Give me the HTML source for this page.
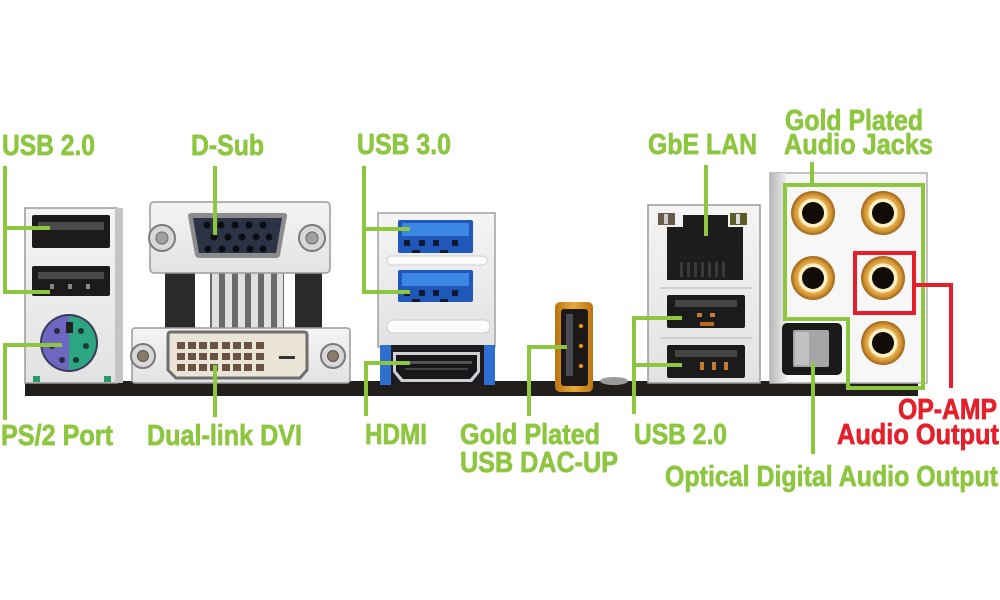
<!DOCTYPE html>
<html><head><meta charset="utf-8"><style>
html,body{margin:0;padding:0;background:#fff;}
svg{display:block;}
text{font-family:"Liberation Sans",Arial,sans-serif;font-weight:bold;font-size:28.5px;stroke-width:0.7px;}
</style></head><body>
<svg width="1000" height="600" viewBox="0 0 1000 600" xmlns="http://www.w3.org/2000/svg">
<defs>
<linearGradient id="metal" x1="0" y1="0" x2="0" y2="1"><stop offset="0" stop-color="#f4f4f4"/><stop offset="1" stop-color="#e2e2e2"/></linearGradient>
<linearGradient id="side" x1="0" y1="0" x2="1" y2="0"><stop offset="0" stop-color="#b8b8b8"/><stop offset="1" stop-color="#ececec"/></linearGradient>
<linearGradient id="gold" x1="0" y1="0" x2="1" y2="0"><stop offset="0" stop-color="#b87412"/><stop offset="0.5" stop-color="#e8a83a"/><stop offset="1" stop-color="#b87412"/></linearGradient>
<radialGradient id="jack" cx="0.5" cy="0.5" r="0.5"><stop offset="0.6" stop-color="#f0c060"/><stop offset="0.85" stop-color="#d09030"/><stop offset="1" stop-color="#9a6015"/></radialGradient>
</defs>

<!-- PCB bar -->
<rect x="25" y="381" width="893" height="15" fill="#221e1b"/>

<!-- LEFT USB / PS2 block -->
<rect x="25" y="208" width="92" height="175" fill="url(#metal)" stroke="#9a9a9a" stroke-width="1.5"/>
<rect x="115" y="208" width="8" height="175" fill="#c4c4c4"/>
<rect x="32" y="215" width="78" height="33" rx="2" fill="#1c1a1a"/>
<rect x="38" y="222" width="66" height="8" fill="#4a4a4a"/>
<rect x="32" y="266" width="78" height="30" rx="2" fill="#1c1a1a"/>
<rect x="38" y="272" width="66" height="7" fill="#4a4a4a"/>
<rect x="50" y="284" width="4" height="5" fill="#888"/><rect x="68" y="284" width="4" height="5" fill="#888"/><rect x="86" y="284" width="4" height="5" fill="#888"/>
<circle cx="69" cy="343" r="29" fill="#3c3a5c"/>
<path d="M69,316 A27,27 0 0 0 69,370 Z" fill="#6e66c0"/>
<path d="M69,316 A27,27 0 0 1 69,370 Z" fill="#2da581"/>
<rect x="66" y="322" width="7" height="11" fill="#222"/>
<circle cx="57" cy="331" r="3" fill="#2a2a44"/><circle cx="52" cy="346" r="3" fill="#2a2a44"/><circle cx="62" cy="360" r="3" fill="#2a2a44"/>
<circle cx="81" cy="331" r="3" fill="#1a3a30"/><circle cx="86" cy="346" r="3" fill="#1a3a30"/><circle cx="76" cy="360" r="3" fill="#1a3a30"/>
<rect x="33" y="376" width="7" height="6" fill="#2a9a6a"/><rect x="104" y="376" width="7" height="6" fill="#2a9a6a"/>

<!-- D-Sub / DVI -->
<rect x="165" y="268" width="30" height="64" fill="#2a2a2a"/>
<rect x="295" y="268" width="27" height="64" fill="#2a2a2a"/>
<rect x="210" y="270" width="74" height="62" fill="#6a6a6a"/>
<g fill="#e0e0e0">
<rect x="212" y="270" width="7" height="62"/><rect x="225" y="270" width="7" height="62"/><rect x="238" y="270" width="7" height="62"/><rect x="251" y="270" width="7" height="62"/><rect x="264" y="270" width="7" height="62"/><rect x="277" y="270" width="6" height="62"/>
</g>
<rect x="150" y="202" width="180" height="71" rx="4" fill="url(#metal)" stroke="#9a9a9a" stroke-width="1.5"/>
<path d="M188,216 Q188,213 191,213 H284 Q287,213 287,216 L280,255 Q279,258 276,258 H199 Q196,258 195,255 Z" fill="#8c8c8c"/>
<path d="M193,218 H282 L276,253 H199 Z" fill="#2b3344"/>
<g fill="#0c0d12">
<circle cx="207" cy="225" r="3.5"/><circle cx="221" cy="225" r="3.5"/><circle cx="235" cy="225" r="3.5"/><circle cx="249" cy="225" r="3.5"/><circle cx="263" cy="225" r="3.5"/>
<circle cx="214" cy="237" r="3.5"/><circle cx="228" cy="237" r="3.5"/><circle cx="242" cy="237" r="3.5"/><circle cx="256" cy="237" r="3.5"/><circle cx="269" cy="237" r="3.5"/>
<circle cx="208" cy="249" r="3.5"/><circle cx="222" cy="249" r="3.5"/><circle cx="236" cy="249" r="3.5"/><circle cx="250" cy="249" r="3.5"/><circle cx="263" cy="249" r="3.5"/>
</g>
<circle cx="162" cy="238" r="13" fill="#d8d8d8" stroke="#7a7a7a" stroke-width="2"/><circle cx="162" cy="238" r="6" fill="#a0a0a0" stroke="#666"/>
<circle cx="312" cy="238" r="13" fill="#d8d8d8" stroke="#7a7a7a" stroke-width="2"/><circle cx="312" cy="238" r="6" fill="#a0a0a0" stroke="#666"/>

<rect x="132" y="328" width="218" height="55" rx="3" fill="url(#metal)" stroke="#9a9a9a" stroke-width="1.5"/>
<path d="M168,335 Q168,332 171,332 H304 Q307,332 307,335 V370 L300,378 H176 L168,370 Z" fill="#e9e4d6" stroke="#6e6e6e" stroke-width="3"/>
<g fill="#6a5242">
<rect x="177" y="342" width="8" height="7"/><rect x="188" y="342" width="8" height="7"/><rect x="199" y="342" width="8" height="7"/><rect x="210" y="342" width="8" height="7"/><rect x="222" y="342" width="8" height="7"/><rect x="233" y="342" width="8" height="7"/><rect x="244" y="342" width="8" height="7"/><rect x="256" y="342" width="8" height="7"/>
<rect x="177" y="353" width="8" height="7"/><rect x="188" y="353" width="8" height="7"/><rect x="199" y="353" width="8" height="7"/><rect x="210" y="353" width="8" height="7"/><rect x="222" y="353" width="8" height="7"/><rect x="233" y="353" width="8" height="7"/><rect x="244" y="353" width="8" height="7"/><rect x="256" y="353" width="8" height="7"/>
<rect x="177" y="364" width="8" height="7"/><rect x="188" y="364" width="8" height="7"/><rect x="199" y="364" width="8" height="7"/><rect x="210" y="364" width="8" height="7"/><rect x="222" y="364" width="8" height="7"/><rect x="233" y="364" width="8" height="7"/><rect x="244" y="364" width="8" height="7"/><rect x="256" y="364" width="8" height="7"/>
</g>
<rect x="279" y="356" width="16" height="3" fill="#333"/>
<circle cx="143" cy="356" r="12" fill="#d8d8d8" stroke="#7a7a7a" stroke-width="2"/><circle cx="143" cy="356" r="5.5" fill="#8a7a6a" stroke="#555"/>
<circle cx="333" cy="356" r="12" fill="#d8d8d8" stroke="#7a7a7a" stroke-width="2"/><circle cx="333" cy="356" r="5.5" fill="#8a7a6a" stroke="#555"/>

<!-- USB 3.0 / HDMI -->
<rect x="378" y="213" width="117" height="134" fill="url(#metal)" stroke="#a0a0a0" stroke-width="1.5"/>
<rect x="398" y="220" width="75" height="33" rx="2" fill="#1f58b8"/>
<rect x="402" y="223" width="67" height="13" fill="#3c86e4"/>
<g fill="#0e1a30"><rect x="404" y="240" width="6" height="6"/><rect x="419" y="240" width="6" height="6"/><rect x="433" y="240" width="6" height="6"/><rect x="452" y="240" width="6" height="6"/><rect x="412" y="250" width="8" height="3"/><rect x="440" y="250" width="8" height="3"/></g>
<rect x="387" y="256" width="100" height="9" rx="4" fill="#fafafa" stroke="#cfcfcf"/>
<rect x="398" y="270" width="75" height="32" rx="2" fill="#1f58b8"/>
<rect x="402" y="273" width="67" height="13" fill="#3c86e4"/>
<g fill="#0e1a30"><rect x="404" y="290" width="6" height="6"/><rect x="419" y="290" width="6" height="6"/><rect x="433" y="290" width="6" height="6"/><rect x="452" y="290" width="6" height="6"/><rect x="412" y="299" width="8" height="3"/><rect x="440" y="299" width="8" height="3"/></g>
<rect x="387" y="320" width="103" height="13" rx="6" fill="#fbfbfb" stroke="#cccccc"/>
<rect x="380" y="345" width="115" height="40" fill="#1c1c22"/>
<rect x="380" y="345" width="11" height="40" fill="#2f6fd0"/>
<rect x="484" y="345" width="11" height="40" fill="#2f6fd0"/>
<path d="M393,352 H480 V372 L472,382 H401 L393,372 Z" fill="#cfcfcf"/>
<path d="M396,355 H477 V371 L470,379 H403 L396,371 Z" fill="#18181c"/>
<rect x="402" y="361" width="70" height="3" fill="#555"/>
<rect x="405" y="368" width="63" height="2" fill="#444"/>

<!-- Gold USB DAC-UP -->
<rect x="555" y="302" width="38" height="90" rx="5" fill="url(#gold)"/>
<rect x="561" y="309" width="27" height="77" rx="3" fill="#1c1815"/>
<rect x="566" y="314" width="7" height="62" fill="#4a4a54"/>
<circle cx="581" cy="326" r="2.2" fill="#e08a20"/><circle cx="581" cy="346" r="2.2" fill="#e08a20"/><circle cx="581" cy="366" r="2.2" fill="#e08a20"/>
<ellipse cx="614" cy="381" rx="14" ry="4" fill="#9a9a9a"/>

<!-- LAN / USB 2.0 -->
<rect x="648" y="205" width="112" height="178" fill="url(#metal)" stroke="#9a9a9a" stroke-width="1.5"/>
<rect x="658" y="213" width="17" height="12" fill="#6a5a4a"/><rect x="664" y="214" width="4" height="10" fill="#ccc"/>
<rect x="730" y="213" width="17" height="12" fill="#5e5c26"/><rect x="736" y="214" width="4" height="10" fill="#ddd"/>
<path d="M667,227 H683 V215 H728 V227 H743 V280 H667 Z" fill="#1d1d1d"/>
<g fill="#3a3a3a"><rect x="680" y="262" width="3" height="15"/><rect x="687" y="262" width="3" height="15"/><rect x="694" y="262" width="3" height="15"/><rect x="701" y="262" width="3" height="15"/><rect x="708" y="262" width="3" height="15"/><rect x="715" y="262" width="3" height="15"/><rect x="722" y="262" width="3" height="15"/></g>
<rect x="660" y="287" width="92" height="2" fill="#d0d0d0"/>
<rect x="667" y="295" width="78" height="33" rx="2" fill="#1b1b1b"/>
<rect x="675" y="300" width="62" height="7" fill="#444"/>
<rect x="697" y="313" width="5" height="4" fill="#c87a30"/><rect x="710" y="313" width="5" height="4" fill="#c87a30"/><rect x="700" y="322" width="14" height="4" fill="#b86a20"/>
<rect x="660" y="337" width="92" height="2" fill="#d0d0d0"/>
<rect x="667" y="345" width="78" height="33" rx="2" fill="#1b1b1b"/>
<rect x="675" y="350" width="62" height="7" fill="#444"/>
<rect x="700" y="362" width="4" height="8" fill="#c87a30"/><rect x="712" y="362" width="4" height="8" fill="#c87a30"/><rect x="724" y="362" width="4" height="8" fill="#c87a30"/>

<!-- Audio block -->
<rect x="770" y="173" width="157" height="210" fill="#f7f7f7" stroke="#b0b0b0" stroke-width="1.5"/>
<rect x="770" y="173" width="16" height="210" fill="url(#side)"/>
<g>
<circle cx="813" cy="213" r="22" fill="url(#jack)"/><circle cx="813" cy="213" r="14.5" fill="#fff0c4"/><circle cx="813" cy="213" r="11" fill="#120c08"/>
<circle cx="883" cy="213" r="22" fill="url(#jack)"/><circle cx="883" cy="213" r="14.5" fill="#fff0c4"/><circle cx="883" cy="213" r="11" fill="#120c08"/>
<circle cx="813" cy="278" r="22" fill="url(#jack)"/><circle cx="813" cy="278" r="14.5" fill="#fff0c4"/><circle cx="813" cy="278" r="11" fill="#120c08"/>
<circle cx="883" cy="278" r="22" fill="url(#jack)"/><circle cx="883" cy="278" r="14.5" fill="#fff0c4"/><circle cx="883" cy="278" r="11" fill="#120c08"/>
<circle cx="883" cy="343" r="22" fill="url(#jack)"/><circle cx="883" cy="343" r="14.5" fill="#fff0c4"/><circle cx="883" cy="343" r="11" fill="#120c08"/>
</g>
<rect x="782" y="323" width="60" height="52" rx="5" fill="#1a1a1a"/>
<rect x="793" y="330" width="36" height="37" rx="2" fill="#a6a6a6"/>
<rect x="795" y="332" width="14" height="33" fill="#c2c2c2"/>

<!-- Green connectors -->
<g fill="none" stroke="#8dc63f" stroke-width="4">
<path d="M5,166 V292 H50 M5,228 H50"/>
<path d="M5,420 V345 H62"/>
<path d="M215,166 V235"/>
<path d="M215,365 V417"/>
<path d="M364,166 V292 H410 M364,229 H410"/>
<path d="M366,416 V363 H410"/>
<path d="M529,416 V347 H567"/>
<path d="M634,414 V318 H682 M634,365 H682"/>
<path d="M706,165 V236"/>
<path d="M812,162 V185"/>
<path d="M785,185 H923 V388 H848 V319 H785 Z"/>
<path d="M813,363 V454"/>
</g>
<!-- Red connector -->
<g fill="none" stroke="#e4202a" stroke-width="4">
<rect x="855" y="253" width="59" height="60"/>
<path d="M914,285 H951 V388"/>
</g>

<!-- Labels -->
<g fill="#8dc63f" stroke="#8dc63f">
<text x="2" y="155" textLength="93" lengthAdjust="spacingAndGlyphs">USB 2.0</text>
<text x="191" y="155" textLength="73" lengthAdjust="spacingAndGlyphs">D-Sub</text>
<text x="357" y="154" textLength="94" lengthAdjust="spacingAndGlyphs">USB 3.0</text>
<text x="648" y="154" textLength="109" lengthAdjust="spacingAndGlyphs">GbE LAN</text>
<text x="785" y="130" textLength="138" lengthAdjust="spacingAndGlyphs">Gold Plated</text>
<text x="784" y="154" textLength="149" lengthAdjust="spacingAndGlyphs">Audio Jacks</text>
<text x="1" y="445" textLength="112" lengthAdjust="spacingAndGlyphs">PS/2 Port</text>
<text x="147" y="445" textLength="155" lengthAdjust="spacingAndGlyphs">Dual-link DVI</text>
<text x="365" y="444" textLength="62" lengthAdjust="spacingAndGlyphs">HDMI</text>
<text x="460" y="444" textLength="140" lengthAdjust="spacingAndGlyphs">Gold Plated</text>
<text x="460" y="472" textLength="158" lengthAdjust="spacingAndGlyphs">USB DAC-UP</text>
<text x="634" y="444" textLength="93" lengthAdjust="spacingAndGlyphs">USB 2.0</text>
<text x="665" y="486" textLength="333" lengthAdjust="spacingAndGlyphs">Optical Digital Audio Output</text>
</g>
<g fill="#e4202a" stroke="#e4202a">
<text x="898" y="419" textLength="99" lengthAdjust="spacingAndGlyphs">OP-AMP</text>
<text x="837" y="444" textLength="162" lengthAdjust="spacingAndGlyphs">Audio Output</text>
</g>
</svg>
</body></html>
